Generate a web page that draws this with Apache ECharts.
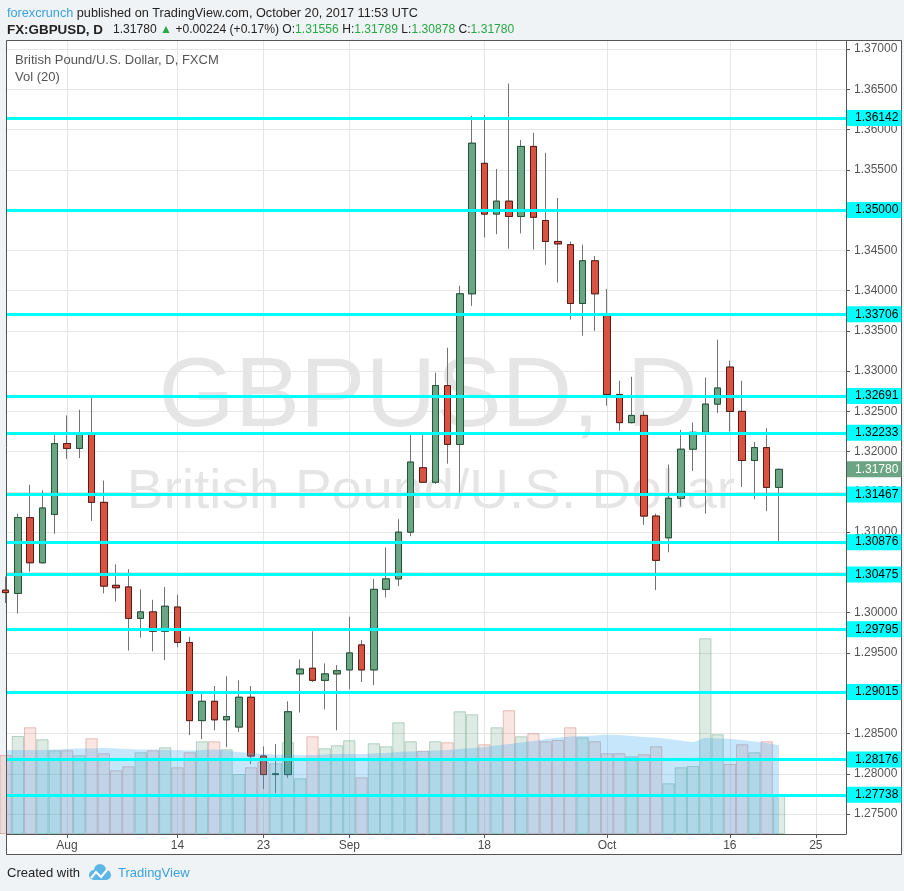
<!DOCTYPE html>
<html><head><meta charset="utf-8">
<script src="https://cdn.jsdelivr.net/npm/echarts/dist/echarts.min.js"></script>
<style>html,body{margin:0;padding:0;background:#f0f3f6;}#chart{width:904px;height:891px;}</style>
</head><body><div id="chart"></div>
<script>
// ---- data ----
const dates = ['2017-07-25','2017-07-26','2017-07-27','2017-07-28','2017-07-31',
'2017-08-01','2017-08-02','2017-08-03','2017-08-04','2017-08-07','2017-08-08','2017-08-09','2017-08-10','2017-08-11',
'2017-08-14','2017-08-15','2017-08-16','2017-08-17','2017-08-18','2017-08-21','2017-08-22','2017-08-23','2017-08-24','2017-08-25',
'2017-08-28','2017-08-29','2017-08-30','2017-08-31','2017-09-01','2017-09-04','2017-09-05','2017-09-06','2017-09-07','2017-09-08',
'2017-09-11','2017-09-12','2017-09-13','2017-09-14','2017-09-15','2017-09-18','2017-09-19','2017-09-20','2017-09-21','2017-09-22',
'2017-09-25','2017-09-26','2017-09-27','2017-09-28','2017-09-29','2017-10-02','2017-10-03','2017-10-04','2017-10-05','2017-10-06',
'2017-10-09','2017-10-10','2017-10-11','2017-10-12','2017-10-13','2017-10-16','2017-10-17','2017-10-18','2017-10-19','2017-10-20',
'2017-10-23','2017-10-24','2017-10-25','2017-10-26','2017-10-27'];
const opens  = [1.3028,1.3024,1.3118,1.3062,1.3122, 1.3210,1.3204,1.3223,1.3137,1.3034,1.3032,1.2993,1.3001,1.2977,
 1.3007,1.2963,1.2866,1.2890,1.2867,1.2858,1.2895,1.2822,1.2799,1.2799, 1.2924,1.2931,1.2916,1.2924,1.2929,1.2960,1.2929,1.3029,1.3042,1.3100,
 1.3180,1.3162,1.3282,1.3209,1.3396,1.3558,1.3495,1.3511,1.3492,1.3579, 1.3487,1.3461,1.3457,1.3384,1.3437,1.3369,1.3271,1.3236,1.3245,1.3120,
 1.3093,1.3142,1.3203,1.3224,1.3259,1.3305,1.3250,1.3189,1.3205,1.31556];
const closes = [1.3025,1.3118,1.3062,1.3130,1.3210, 1.3204,1.3223,1.3137,1.3033,1.3031,1.2993,1.3001,1.2977,1.3008,
 1.2963,1.2866,1.2890,1.2867,1.2871,1.2895,1.2822,1.2799,1.2800,1.2877, 1.2930,1.2916,1.2924,1.2928,1.2950,1.2929,1.3029,1.3042,1.3100,1.3187,
 1.3162,1.3282,1.3209,1.3396,1.3583,1.3495,1.3511,1.3492,1.3579,1.3491, 1.3461,1.3458,1.3384,1.3437,1.3396,1.3271,1.3236,1.3245,1.3120,1.3065,
 1.3142,1.3203,1.3224,1.3259,1.3279,1.3250,1.3189,1.3205,1.31556,1.31780];
const lows   = [1.3012,1.2999,1.3051,1.3061,1.3098, 1.3191,1.3192,1.3114,1.3024,1.3014,1.2953,1.2969,1.2952,1.2941,
 1.2957,1.2848,1.2843,1.2854,1.2833,1.2852,1.2812,1.2781,1.2776,1.2795, 1.2876,1.2914,1.2880,1.2854,1.2905,1.2914,1.2910,1.3019,1.3033,1.3095,
 1.3162,1.3160,1.3185,1.3149,1.3381,1.3466,1.3470,1.3452,1.3471,1.3451, 1.3432,1.3410,1.3364,1.3344,1.3350,1.3257,1.3226,1.3235,1.3109,1.3028,
 1.3075,1.3132,1.3176,1.3123,1.3248,1.3225,1.3156,1.3141,1.3126,1.30878];
const highs  = [1.3045,1.3123,1.3159,1.3152,1.3222, 1.3245,1.3252,1.3267,1.3164,1.3060,1.3054,1.3029,1.3016,1.3032,
 1.3022,1.2970,1.2900,1.2909,1.2921,1.2916,1.2909,1.2834,1.2837,1.2890, 1.2942,1.2977,1.2937,1.2935,1.2995,1.2966,1.3042,1.3081,1.3116,1.3221,
 1.3221,1.3298,1.3329,1.3406,1.3617,1.3618,1.3551,1.3657,1.3587,1.3596, 1.3571,1.3515,1.3461,1.3457,1.3443,1.3402,1.3288,1.3293,1.3250,1.3123,
 1.3184,1.3227,1.3236,1.3292,1.3339,1.3313,1.3288,1.3212,1.3229,1.31789];
const volumes = [79,98,106.7,94.7,83.7, 83.7,78.7,95.7,80.7,63.7,67.7,81.7,83.7,86.7,
 66.7,81.7,92.7,92.7,84.7,60,66.7,72,70.7,91.7, 55.7,97.7,85.7,88.7,93.7,56.7,90.7,87.7,111.7,92.7,
 83.3,92.7,91.7,122.7,119.7,89.7,106.7,123.7,97.7,100.7, 92.7,94,106.7,96.7,92.7,80.7,80.7,77.7,79.7,87.7,
 50.7,66.7,68,195.7,99.7,70,89.7,81.7,92.7,38.3];
const volMA20 = [84,84,84,84,84.5, 85,85.5,85.5,86,85.5,85,84.5,84.5,84,
 84,83.5,84,84.5,83.5,82,81,80,79.5,79, 79,79,79.5,80,80,80,80.5,81,82,82.5,
 83,83.5,84,85,86,87,88.5,90,91.5,93, 95,96.5,97.5,98,98.5,99.3,99,98,97,96.3,
 95,93.5,92,96,95.5,95,94,92.5,91,88.7];
const levels = [1.36142,1.35000,1.33706,1.32691,1.32233,1.31467,1.30876,1.30475,1.29795,1.29015,1.28176,1.27738];
const lastPrice = 1.31780;
const priceTicks = [1.275,1.28,1.285,1.29,1.295,1.30,1.305,1.31,1.315,1.32,1.325,1.33,1.335,1.34,1.345,1.35,1.355,1.36,1.365,1.37];
const tickIdx = [5,14,21,28,39,49,59,66];
const tickLabels = ['Aug','14','23','Sep','18','Oct','16','25'];

// ---- layout ----
const GL = 7, GT = 41, GR = 846, GB = 834;
const xMin = 0.114, xMax = 68.46;
const yMin = 1.27252, yMax = 1.37099;
const FONT = 'Liberation Sans, Arial, sans-serif';

const idx = opens.map((_, i) => i);
const candleFull = idx.map(i => [i, opens[i], closes[i], lows[i], highs[i]]);
const candleBody = idx.map(i => [i, opens[i], closes[i], Math.min(opens[i], closes[i]), Math.max(opens[i], closes[i])]);
const volData = idx.map(i => {
  const up = closes[i] >= opens[i];
  return {value: [i, volumes[i]], itemStyle: up ?
    {color: 'rgba(107,165,131,0.22)', borderColor: 'rgba(107,165,131,0.45)', borderWidth: 1} :
    {color: 'rgba(215,84,66,0.15)', borderColor: 'rgba(190,90,80,0.35)', borderWidth: 1}};
});
const maData = idx.map(i => [i, volMA20[i]]);

const chart = echarts.init(document.getElementById('chart'), null, {renderer: 'canvas'});
const gridBox = {left: GL, top: GT, width: GR - GL, height: GB - GT};

function t(x, y, text, color, font) {
  return {type: 'text', z: 50, x: x, y: y, style: {text: text, fill: color, font: font, textVerticalAlign: 'middle'}};
}
const F13 = '12.7px ' + FONT, F12 = '12.1px ' + FONT;
const GREEN = '#28a745', DARK = '#222';

const option = {
  animation: false,
  backgroundColor: 'transparent',
  grid: [Object.assign({}, gridBox), Object.assign({}, gridBox)],
  xAxis: [{
    type: 'value', gridIndex: 0, min: xMin, max: xMax,
    axisLine: {show: true, lineStyle: {color: '#555', width: 1}},
    axisTick: {show: true, length: 4, customValues: tickIdx, lineStyle: {color: '#555'}},
    axisLabel: {show: true, customValues: tickIdx, margin: 6, color: '#4a4a4a', fontSize: 12, fontFamily: FONT,
      formatter: v => { const k = tickIdx.indexOf(Math.round(v)); return k >= 0 ? tickLabels[k] : ''; }},
    splitLine: {show: false}
  }, {
    type: 'value', gridIndex: 1, min: xMin, max: xMax, show: false
  }],
  yAxis: [{
    type: 'value', gridIndex: 0, position: 'right', min: yMin, max: yMax, splitNumber: 20,
    minInterval: 0.005, maxInterval: 0.005,
    axisLine: {show: true, lineStyle: {color: '#555', width: 1}},
    axisTick: {show: true, length: 4, customValues: priceTicks, lineStyle: {color: '#555'}},
    axisLabel: {show: true, customValues: priceTicks, margin: 8, color: '#555', fontSize: 12, fontFamily: FONT,
      formatter: v => v.toFixed(5)},
    splitLine: {show: true, lineStyle: {color: '#e6e6e6', width: 1}}
  }, {
    type: 'value', gridIndex: 1, min: 0, max: GB - GT, show: false
  }],
  graphic: [
    {type: 'rect', z: -10, shape: {x: 6.5, y: 40.5, width: 895, height: 814}, style: {fill: '#fff', stroke: '#555', lineWidth: 1}},
    {type: 'text', z: -5, x: 428, y: 399, style: {text: 'GBPUSD, D', font: '98px ' + FONT, fill: 'rgba(0,0,0,0.1)', textAlign: 'center', textVerticalAlign: 'middle'}},
    {type: 'text', z: -5, x: 431, y: 493, style: {text: 'British Pound/U.S. Dollar', font: '55px ' + FONT, fill: 'rgba(0,0,0,0.1)', textAlign: 'center', textVerticalAlign: 'middle'}},
    t(15, 60, 'British Pound/U.S. Dollar, D, FXCM', '#555', '13px ' + FONT),
    t(15, 77, 'Vol (20)', '#555', '13px ' + FONT),
    {type: 'text', z: 50, x: 7, y: 13, style: {
      text: '{a|forexcrunch}{b| published on TradingView.com, October 20, 2017 11:53 UTC}',
      textVerticalAlign: 'middle',
      rich: {a: {fill: '#3aa2dc', font: F13}, b: {fill: DARK, font: F13}}}},
    t(7, 30, 'FX:GBPUSD, D', DARK, 'bold 13.4px ' + FONT),
    {type: 'text', z: 50, x: 113, y: 30, style: {
      text: '{n|1.31780 }{g|▲}{n| +0.00224 (+0.17%) O:}{g|1.31556}{n| H:}{g|1.31789}{n| L:}{g|1.30878}{n| C:}{g|1.31780}',
      textVerticalAlign: 'middle',
      rich: {n: {fill: DARK, font: F12}, g: {fill: GREEN, font: F12}}}},
    t(7, 873, 'Created with', DARK, '13px ' + FONT),
    {type: 'group', x: 88, y: 864, children: [
      {type: 'circle', shape: {cx: 6, cy: 11, r: 5}, style: {fill: '#5cb6e6'}},
      {type: 'circle', shape: {cx: 12, cy: 6, r: 6}, style: {fill: '#5cb6e6'}},
      {type: 'circle', shape: {cx: 18, cy: 11, r: 5}, style: {fill: '#5cb6e6'}},
      {type: 'rect', shape: {x: 6, y: 8, width: 12, height: 8}, style: {fill: '#5cb6e6'}},
      {type: 'polyline', shape: {points: [[3, 14], [8, 8], [13, 13], [19, 6]]}, style: {stroke: '#fff', lineWidth: 2, fill: null}}
    ]},
    t(118, 873, 'TradingView', '#3aa2dc', '13px ' + FONT)
  ],
  series: [{
    type: 'candlestick', xAxisIndex: 0, yAxisIndex: 0, barWidth: 7, clip: true,
    data: candleFull,
    itemStyle: {color: '#6ba583', color0: '#d75442', borderColor: '#737375', borderColor0: '#737375', borderWidth: 1},
    markLine: {
      symbol: ['none', 'none'], silent: true, animation: false, z: 20, precision: 5,
      lineStyle: {color: '#00ffff', width: 3, type: 'solid'},
      label: {show: true, position: 'end', distance: 1, formatter: p => Number(p.value).toFixed(5),
        backgroundColor: '#00ffff', color: '#000', fontSize: 12, fontFamily: FONT, padding: [2, 3, 2, 8]},
      data: levels.map(v => ({yAxis: v})).concat([{yAxis: lastPrice, lineStyle: {color: 'rgba(0,0,0,0)', width: 0},
        label: {show: true, backgroundColor: '#6ba583', color: '#fff'}}])
    }
  }, {
    type: 'candlestick', xAxisIndex: 0, yAxisIndex: 0, barWidth: 7, clip: true,
    data: candleBody,
    itemStyle: {color: '#6ba583', color0: '#d75442', borderColor: '#225437', borderColor0: '#5b1a13', borderWidth: 1}
  }, {
    type: 'bar', xAxisIndex: 1, yAxisIndex: 1, barWidth: 12.276, clip: true,
    data: volData,
    markLine: {
      symbol: ['none', 'none'], silent: true, animation: false, z: 1, precision: 3,
      lineStyle: {color: '#e6e6e6', width: 1, type: 'solid'},
      label: {show: false},
      data: tickIdx.map(v => ({xAxis: v}))
    }
  }, {
    type: 'line', xAxisIndex: 1, yAxisIndex: 1, data: maData, symbol: 'none', smooth: 0.3, clip: true,
    lineStyle: {width: 0, color: 'rgba(52,165,242,0.4)'},
    areaStyle: {color: 'rgba(52,165,242,0.4)', origin: 'start'}
  }]
};
chart.setOption(option);
</script></body></html>
